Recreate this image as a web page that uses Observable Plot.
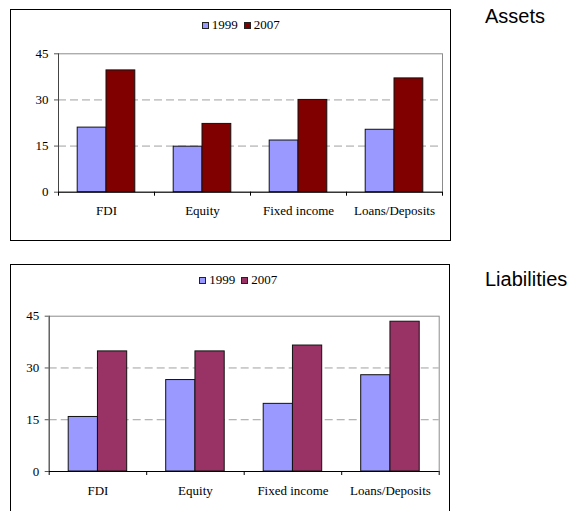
<!DOCTYPE html>
<html>
<head>
<meta charset="utf-8">
<script src="https://cdn.jsdelivr.net/npm/d3@7"></script>
<script src="https://cdn.jsdelivr.net/npm/@observablehq/plot@0.6"></script>
<style>
  html, body { margin: 0; padding: 0; background: #fff; }
  body { width: 573px; height: 511px; position: relative; overflow: hidden; }
  .box { position: absolute; box-sizing: border-box; border: 1px solid #000; background: #fff; }
  .box svg { position: absolute; left: 0; top: 0; background: transparent; }
  .legend { position: absolute; font-family: "Liberation Serif", "Times New Roman", serif; font-size: 13px; line-height: 13px; color: #000; white-space: nowrap; }
  .sw { display: inline-block; width: 7px; height: 7px; box-sizing: border-box; border: 1px solid #222; margin-right: 3px; }
  .item + .item { margin-left: 6px; }
  .title { position: absolute; font-family: "Liberation Sans", Arial, sans-serif; font-size: 20px; line-height: 20px; color: #000; }
</style>
</head>
<body>
<div class="box" id="assetsBox" style="left:10px; top:9px; width:441px; height:232px;"></div>
<div class="title" style="left:485px; top:6px;">Assets</div>
<div class="box" id="liabBox" style="left:10px; top:264px; width:440px; height:262px;"></div>
<div class="title" style="left:485px; top:269px;">Liabilities</div>
<script>
// ---- data ----
const categories = ["FDI", "Equity", "Fixed income", "Loans/Deposits"];
const years = ["1999", "2007"];
const yTicks = [0, 15, 30, 45];
const gridTicks = [15, 30];
const assets1999 = [21.0, 14.8, 16.8, 20.3];
const assets2007 = [39.6, 22.2, 30.0, 37.0];
const liabilities1999 = [15.8, 26.5, 19.6, 27.9];
const liabilities2007 = [34.8, 34.8, 36.5, 43.4];
const color1999 = "#9999FF";
const assetsColor2007 = "#800000";
const liabilitiesColor2007 = "#993366";

function rowsFrom(v1999, v2007) {
  const rows = [];
  categories.forEach((c, i) => {
    rows.push({cat: c, i, year: years[0], value: v1999[i]});
    rows.push({cat: c, i, year: years[1], value: v2007[i]});
  });
  return rows;
}

// bar placement inside each category band (in band units)
const groupStart = 0.2, barW = 0.3;
const x1 = d => d.i + groupStart + years.indexOf(d.year) * barW;
const x2 = d => d.i + groupStart + (years.indexOf(d.year) + 1) * barW;

function panel(rows, color2007, dims) {
  return Plot.plot({
    width: dims.width,
    height: dims.height,
    marginLeft: dims.marginLeft,
    marginRight: dims.marginRight,
    marginTop: dims.marginTop,
    marginBottom: dims.marginBottom,
    style: {fontFamily: "Liberation Serif, Times New Roman, serif", fontSize: "13px", background: "transparent", color: "#000"},
    x: {type: "linear", domain: [0, categories.length], axis: null},
    y: {domain: [yTicks[0], yTicks[yTicks.length - 1]], axis: null},
    color: {domain: years, range: [color1999, color2007]},
    marks: [
      Plot.frame({stroke: "#8c8c8c"}),
      Plot.gridY({ticks: gridTicks, stroke: "#a0a0a0", strokeOpacity: 1, strokeDasharray: "8,4"}),
      Plot.rectY(rows, {x1, x2, y1: 0, y2: "value", fill: "year", stroke: "#111", strokeWidth: 1}),
      Plot.ruleX([0], {stroke: "#444"}),
      Plot.ruleY([0], {stroke: "#000"}),
      Plot.axisY({ticks: yTicks, tickSize: 4, tickPadding: 6, label: null, stroke: "#555"}),
      Plot.axisX({ticks: d3.range(categories.length + 1), tickSize: 4, tickFormat: () => "", label: null, stroke: "#000"}),
      Plot.axisX({ticks: categories.map((_, i) => i + 0.5), tickSize: 0, tickPadding: 14, tickFormat: d => categories[Math.floor(d)], label: null})
    ]
  });
}

function legend(color2007, left, top) {
  const div = document.createElement("div");
  div.className = "legend";
  div.style.left = left + "px";
  div.style.top = top + "px";
  const colors = [color1999, color2007];
  years.forEach((y, k) => {
    const item = document.createElement("span");
    item.className = "item";
    const sw = document.createElement("span");
    sw.className = "sw";
    sw.style.background = colors[k];
    item.appendChild(sw);
    item.appendChild(document.createTextNode(y));
    div.appendChild(item);
  });
  return div;
}

const aBox = document.getElementById("assetsBox");
aBox.appendChild(panel(rowsFrom(assets1999, assets2007), assetsColor2007,
  {width: 439, height: 215, marginLeft: 47, marginRight: 8, marginTop: 43.3, marginBottom: 33.3}));
aBox.appendChild(legend(assetsColor2007, 190.7, 7.8));

const lBox = document.getElementById("liabBox");
lBox.appendChild(panel(rowsFrom(liabilities1999, liabilities2007), liabilitiesColor2007,
  {width: 438, height: 240, marginLeft: 37.7, marginRight: 10.3, marginTop: 50.7, marginBottom: 34}));
lBox.appendChild(legend(liabilitiesColor2007, 188.3, 7.8));
</script>
</body>
</html>
